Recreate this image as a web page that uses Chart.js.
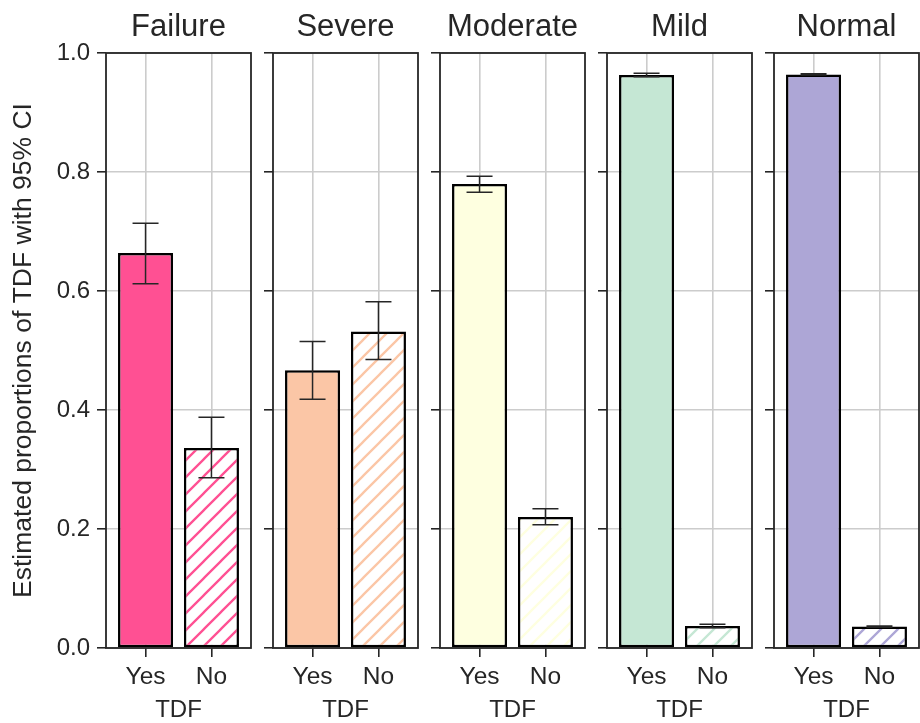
<!DOCTYPE html>
<html>
<head>
<meta charset="utf-8">
<script src="https://cdn.jsdelivr.net/npm/chart.js@4.4.0/dist/chart.umd.min.js"></script>
<style>
  html, body { margin: 0; padding: 0; background: #ffffff; }
  #fig { position: relative; width: 920px; height: 723px; overflow: hidden; background: #ffffff; }
  #fig canvas { position: absolute; top: 0; }
</style>
</head>
<body>
<div id="fig"></div>
<script>
// Outcome groups, one panel each
const groups = ['Failure', 'Severe', 'Moderate', 'Mild', 'Normal'];
// TDF levels on each panel's x axis
const levels = ['Yes', 'No'];

// Estimated proportions with 95% CI bounds
const yesValues = [0.664, 0.467, 0.780, 0.963, 0.964];
const yesLower  = [0.612, 0.418, 0.766, 0.960, 0.963];
const yesUpper  = [0.714, 0.515, 0.793, 0.966, 0.965];
const noValues  = [0.336, 0.532, 0.220, 0.037, 0.036];
const noLower   = [0.286, 0.485, 0.207, 0.034, 0.035];
const noUpper   = [0.388, 0.582, 0.234, 0.040, 0.037];

// y axis tick values
const yTicks = [0.0, 0.2, 0.4, 0.6, 0.8, 1.0];

// Panel colours
const colors = ['#ff5093', '#fbc6a6', '#feffe0', '#c5e7d4', '#ada6d6'];

const FONT = "'Liberation Sans', Arial, 'DejaVu Sans', sans-serif";
const TEXT = '#262626';
const GRID = '#cccccc';

// Layout of the five panels
const frameLeft = [106, 273, 440, 607, 774];
const frameWidth = 145;
const figHeight = 723;

function hatchPattern(color) {
  const s = 17;
  const c = document.createElement('canvas');
  c.width = s; c.height = s;
  const g = c.getContext('2d');
  g.fillStyle = '#ffffff';
  g.fillRect(0, 0, s, s);
  g.strokeStyle = color;
  g.lineWidth = 2.3;
  g.beginPath();
  g.moveTo(-3, s + 3); g.lineTo(s + 3, -3);
  g.moveTo(-3, 3); g.lineTo(3, -3);
  g.moveTo(s - 3, s + 3); g.lineTo(s + 3, s - 3);
  g.stroke();
  return g.createPattern(c, 'repeat');
}

// Confidence-interval whiskers with caps
const errorBars = {
  id: 'errorBars',
  afterDatasetsDraw(chart, args, opts) {
    const meta = chart.getDatasetMeta(0);
    const ys = chart.scales.y;
    const ctx = chart.ctx;
    ctx.save();
    ctx.strokeStyle = opts.color;
    ctx.lineWidth = opts.width;
    meta.data.forEach((bar, i) => {
      const lo = ys.getPixelForValue(opts.lower[i]);
      const hi = ys.getPixelForValue(opts.upper[i]);
      const x = bar.x;
      const half = opts.cap / 2;
      ctx.beginPath();
      ctx.moveTo(x, lo); ctx.lineTo(x, hi);
      ctx.moveTo(x - half, lo); ctx.lineTo(x + half, lo);
      ctx.moveTo(x - half, hi); ctx.lineTo(x + half, hi);
      ctx.stroke();
    });
    ctx.restore();
  }
};

// Axes frame drawn round each plotting area
const frame = {
  id: 'frame',
  afterDraw(chart, args, opts) {
    const a = chart.chartArea;
    const ctx = chart.ctx;
    ctx.save();
    ctx.strokeStyle = opts.color;
    ctx.lineWidth = opts.width;
    ctx.strokeRect(a.left, a.top, a.right - a.left, a.bottom - a.top);
    ctx.restore();
  }
};

const fig = document.getElementById('fig');

groups.forEach((name, i) => {
  const yAxisWidth = i === 0 ? 106 : 12;
  const rightPad = 3;
  const canvas = document.createElement('canvas');
  const w = yAxisWidth + frameWidth + rightPad;
  canvas.width = w;
  canvas.height = figHeight;
  canvas.style.width = w + 'px';
  canvas.style.height = figHeight + 'px';
  canvas.style.left = (frameLeft[i] - yAxisWidth) + 'px';
  fig.appendChild(canvas);

  new Chart(canvas, {
    type: 'bar',
    data: {
      datasets: [{
        data: [
          { x: 0, y: yesValues[i] },
          { x: 1, y: noValues[i] }
        ],
        backgroundColor: [colors[i], hatchPattern(colors[i])],
        borderColor: '#000000',
        borderWidth: 2.5,
        borderSkipped: false,
        barPercentage: 0.835,
        categoryPercentage: 1.0
      }]
    },
    options: {
      responsive: false,
      animation: false,
      events: [],
      layout: { padding: { left: 0, right: rightPad, top: 0, bottom: 0 } },
      scales: {
        x: {
          type: 'linear',
          min: -0.6,
          max: 1.6,
          offset: false,
          afterBuildTicks: s => { s.ticks = levels.map((_, k) => ({ value: k })); },
          afterFit: s => { s.height = 75; },
          ticks: {
            callback: v => levels[v],
            font: { family: FONT, size: 24.5 },
            color: TEXT,
            padding: 6,
            maxRotation: 0,
            autoSkip: false
          },
          grid: { offset: false, color: GRID, lineWidth: 1.6, tickLength: 9, tickColor: TEXT, tickWidth: 1.6 },
          border: { display: false },
          title: {
            display: true,
            text: 'TDF',
            color: TEXT,
            font: { family: FONT, size: 24, lineHeight: 1.0 },
            padding: { top: 0, bottom: 1 }
          }
        },
        y: {
          min: 0,
          max: 1,
          afterBuildTicks: s => { s.ticks = yTicks.map(v => ({ value: v })); },
          afterFit: s => { s.width = yAxisWidth; },
          ticks: {
            display: i === 0,
            callback: v => v.toFixed(1),
            font: { family: FONT, size: 24 },
            color: TEXT,
            padding: 7
          },
          grid: { color: GRID, lineWidth: 1.6, tickLength: 9, tickColor: TEXT, tickWidth: 1.6 },
          border: { display: false },
          title: {
            display: i === 0,
            text: 'Estimated proportions of TDF with 95% CI',
            color: TEXT,
            font: { family: FONT, size: 26.5 },
            padding: { top: 8, bottom: 0 }
          }
        }
      },
      plugins: {
        legend: { display: false },
        tooltip: { enabled: false },
        title: {
          display: true,
          text: name,
          fullSize: false,
          color: TEXT,
          font: { family: FONT, size: 31, weight: 'normal' },
          padding: { top: 9, bottom: 6.8 }
        },
        errorBars: {
          lower: [yesLower[i], noLower[i]],
          upper: [yesUpper[i], noUpper[i]],
          color: '#262626',
          width: 1.5,
          cap: 26
        },
        frame: { color: '#262626', width: 1.8 }
      }
    },
    plugins: [errorBars, frame]
  });
});
</script>
</body>
</html>
